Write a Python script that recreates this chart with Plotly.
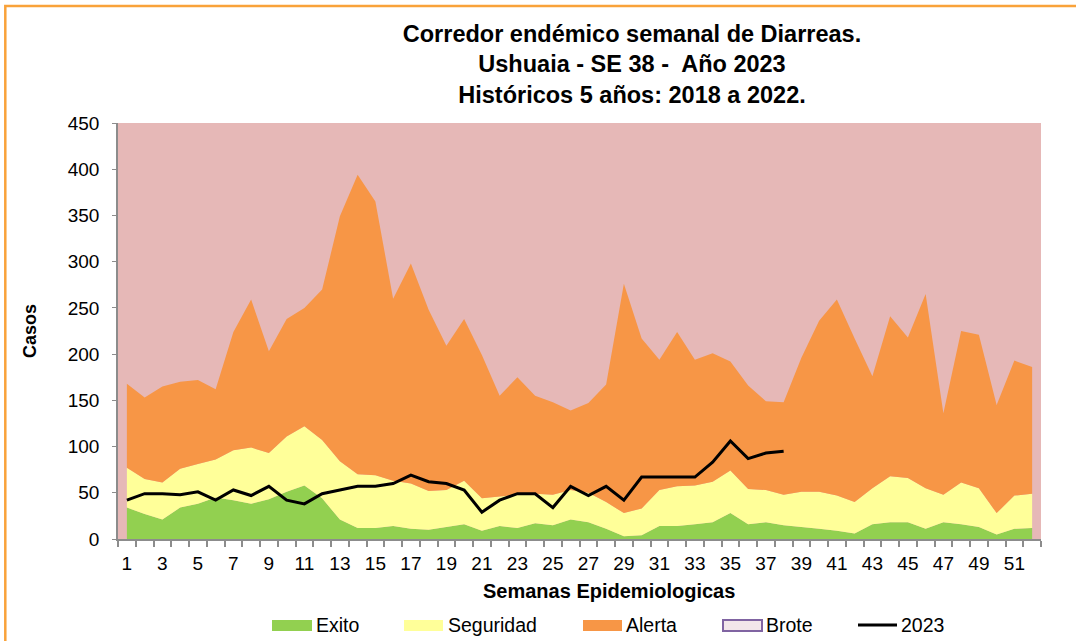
import plotly.graph_objects as go

# ---------------- data ----------------
weeks = list(range(1, 53))
exito = [34, 27, 21, 34, 38, 45, 42, 38, 43, 51, 58, 44, 21, 12, 12, 14, 11, 10, 13, 16,
         9, 14, 12, 17, 15, 21, 18, 11, 3, 4, 14, 14, 16, 18, 28, 16, 18, 15, 13, 11,
         9, 6, 16, 18, 18, 11, 18, 16, 13, 5, 11, 12]
seguridad = [77, 65, 61, 76, 81, 86, 96, 99, 93, 111, 122, 107, 84, 70, 69, 63, 60, 52, 53, 63,
             44, 46, 48, 49, 48, 53, 50, 40, 28, 33, 53, 57, 58, 62, 74, 54, 53, 48, 51, 51,
             47, 40, 55, 68, 66, 55, 48, 61, 55, 28, 47, 49]
alerta = [168, 153, 165, 170, 172, 162, 224, 259, 203, 238, 250, 270, 349, 394, 365, 260, 298, 248, 209, 238,
          199, 155, 175, 155, 148, 139, 147, 167, 276, 217, 194, 224, 194, 201, 192, 166, 149, 148, 196, 236,
          259, 217, 176, 241, 218, 265, 136, 225, 221, 145, 193, 186]
weeks_2023 = list(range(1, 39))
casos_2023 = [42, 49, 49, 48, 51, 42, 53, 47, 57, 42, 38, 49, 53, 57, 57, 60, 69, 62, 60, 53,
              29, 42, 49, 49, 34, 57, 47, 57, 42, 67, 67, 67, 67, 83, 106, 87, 93, 95]
y_ticks = list(range(0, 451, 50))
x_tick_labels = list(range(1, 53, 2))
legend_names = ["Exito", "Seguridad", "Alerta", "Brote", "2023"]

# ---------------- styles ----------------
C_EXITO = "#92D050"
C_SEG = "#FFFF99"
C_ALERTA = "#F79646"
C_BROTE_BG = "#E6B8B7"
C_BROTE_SW = "#F2E6EA"
C_BROTE_LINE = "#8064A2"
C_BORDER = "#F9A23A"
C_AXIS = "#8C8C8C"
FONT = "Liberation Sans, Arial, sans-serif"

W, H = 1076, 641
L, R, T, B = 118, 35, 123, 102
PW, PH = W - L - R, H - T - B


def px(x):
    return (x - L) / PW


def py(y):
    return (H - B - y) / PH


fig = go.Figure()
fig.add_trace(go.Scatter(x=weeks, y=exito, mode="none", fill="tozeroy",
                         fillcolor=C_EXITO, name=legend_names[0], showlegend=False))
fig.add_trace(go.Scatter(x=weeks, y=seguridad, mode="none", fill="tonexty",
                         fillcolor=C_SEG, name=legend_names[1], showlegend=False))
fig.add_trace(go.Scatter(x=weeks, y=alerta, mode="none", fill="tonexty",
                         fillcolor=C_ALERTA, name=legend_names[2], showlegend=False))
fig.add_trace(go.Scatter(x=weeks_2023, y=casos_2023, mode="lines",
                         line=dict(color="black", width=3), name=legend_names[4], showlegend=False))

shapes = []
annotations = []
# outer orange frame
shapes.append(dict(type="rect", xref="paper", yref="paper",
                   x0=px(5.3), x1=px(1100), y0=py(680), y1=py(6),
                   line=dict(color=C_BORDER, width=2.5), fillcolor="rgba(0,0,0,0)", layer="above"))

# manual legend
sw_y0, sw_y1, ly = 620, 631, 625
swatches = [(272, 312, C_EXITO, None), (404, 443, C_SEG, None), (583, 622, C_ALERTA, None),
            (723, 762, C_BROTE_SW, C_BROTE_LINE)]
for x0, x1, fc, lc in swatches:
    shapes.append(dict(type="rect", xref="paper", yref="paper", x0=px(x0), x1=px(x1),
                       y0=py(sw_y1), y1=py(sw_y0), fillcolor=fc,
                       line=dict(color=lc if lc else fc, width=2 if lc else 0)))
shapes.append(dict(type="line", xref="paper", yref="paper", x0=px(858), x1=px(897),
                   y0=py(ly), y1=py(ly), line=dict(color="black", width=3)))
text_x = [314, 446, 624, 764, 899]
for name, tx in zip(legend_names, text_x):
    annotations.append(dict(text=name, xref="paper", yref="paper", x=px(tx), y=py(ly),
                            xanchor="left", yanchor="middle", showarrow=False,
                            font=dict(family=FONT, size=19.5, color="black")))

# x axis title
annotations.append(dict(text="<b>Semanas Epidemiologicas</b>", xref="paper", yref="paper",
                        x=px(609), y=py(591), xanchor="center", yanchor="middle", showarrow=False,
                        font=dict(family=FONT, size=20, color="black")))

fig.update_layout(
    width=W, height=H,
    margin=dict(l=L, r=R, t=T, b=B),
    paper_bgcolor="white",
    plot_bgcolor=C_BROTE_BG,
    showlegend=False,
    title=dict(text="<b>Corredor endémico semanal de Diarreas.<br>Ushuaia - SE 38 -  Año 2023<br>"
                    "Históricos 5 años: 2018 a 2022.</b>",
               x=632 / W, xanchor="center", xref="container",
               y=1 - 41.5 / H, yanchor="middle", yref="container",
               font=dict(family=FONT, size=23.5, color="black")),
    shapes=shapes,
    annotations=annotations,
    xaxis=dict(range=[0.5, 52.5], tickvals=x_tick_labels, ticktext=[str(v) for v in x_tick_labels],
               ticks="", showgrid=False, zeroline=False, showline=True,
               linecolor=C_AXIS, linewidth=1.5,
               tickfont=dict(family=FONT, size=19, color="black"),
               ticklabelstandoff=6,
               minor=dict(ticks="outside", tickvals=[w + 0.5 for w in range(0, 53)],
                          ticklen=6, tickcolor=C_AXIS, tickwidth=1.5, showgrid=False)),
    yaxis=dict(range=[0, 450], tickvals=y_ticks, ticks="outside", ticklen=4,
               tickcolor=C_AXIS, showgrid=False, zeroline=False, showline=True,
               linecolor=C_AXIS, linewidth=1.5,
               tickfont=dict(family=FONT, size=19, color="black"),
               ticklabelstandoff=9,
               title=dict(text="<b>Casos</b>", standoff=26,
                          font=dict(family=FONT, size=18, color="black"))),
)

fig.write_html("out.html", config={"displayModeBar": False},
               post_script="document.body.style.margin='0px';")
